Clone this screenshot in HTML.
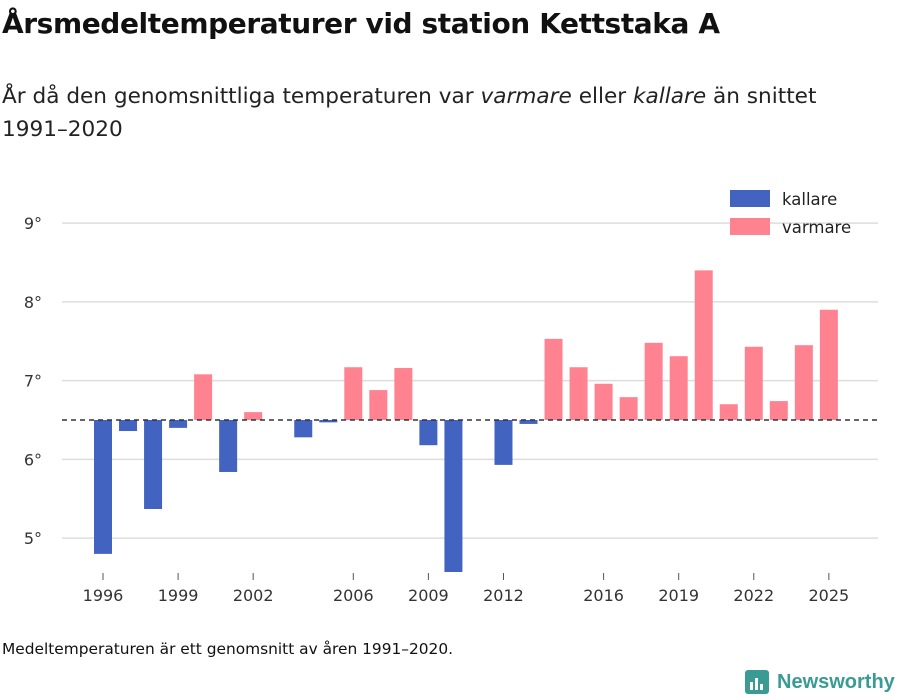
<!DOCTYPE html>
<html><head><meta charset="utf-8"><style>
body{margin:0;width:900px;height:700px;background:#fff;font-family:"DejaVu Sans","Liberation Sans",sans-serif;color:#111;position:relative;overflow:hidden}
h1{position:absolute;left:2px;top:7px;margin:0;font-size:28px;font-weight:bold;letter-spacing:-0.4px}
.sub{position:absolute;left:2px;top:80px;font-size:21.6px;line-height:33px;color:#222}
.note{position:absolute;left:2px;top:640px;font-size:15.4px;color:#111}
.logo{position:absolute;left:745px;top:670px;font-size:20px;color:#3a9b94;font-weight:bold;display:flex;align-items:center;gap:8px;font-family:"Liberation Sans",sans-serif}
</style></head><body>
<h1>Årsmedeltemperaturer vid station Kettstaka A</h1>
<div class="sub">År då den genomsnittliga temperaturen var <i>varmare</i> eller <i>kallare</i> än snittet<br>1991–2020</div>
<svg id="chart" width="900" height="700" style="position:absolute;left:0;top:0"></svg>
<div class="note">Medeltemperaturen är ett genomsnitt av åren 1991–2020.</div>
<div class="logo"><svg width="24" height="24"><rect width="24" height="24" rx="3" fill="#3a9b94"/><rect x="5" y="12" width="3" height="8" fill="#fff"/><rect x="10" y="8" width="3" height="12" fill="#fff"/><rect x="15" y="14" width="3" height="6" fill="#fff"/></svg>Newsworthy</div>
<script>
const years=[1996,1997,1998,1999,2000,2001,2002,2003,2004,2005,2006,2007,2008,2009,2010,2011,2012,2013,2014,2015,2016,2017,2018,2019,2020,2021,2022,2023,2024,2025];
const temps=[4.80,6.36,5.37,6.40,7.08,5.84,6.60,null,6.28,6.47,7.17,6.88,7.16,6.18,4.57,null,5.93,6.45,7.53,7.17,6.96,6.79,7.48,7.31,8.40,6.70,7.43,6.74,7.45,7.90];
const baseline=6.5;
const yTicks=[5,6,7,8,9];
const xTicks=[1996,1999,2002,2006,2009,2012,2016,2019,2022,2025];
const ns="http://www.w3.org/2000/svg";
const svg=document.getElementById('chart');
const x=yr=>103+(yr-1996)*25.03;
const y=v=>420-(v-baseline)*78.75;
function mk(t,a){const e=document.createElementNS(ns,t);for(const k in a)e.setAttribute(k,a[k]);svg.appendChild(e);return e;}
yTicks.forEach(t=>{
 const g=mk('line',{x1:62,x2:878,y1:y(t),y2:y(t),stroke:'#ddd','stroke-width':1.5});
 
 
 const l=mk('text',{x:42,y:y(t)+6,'text-anchor':'end','font-size':16,fill:'#333','font-family':'DejaVu Sans, sans-serif'});
 l.textContent=t+'°';
 
 
});
years.forEach((yr,i)=>{
 const v=temps[i]; if(v==null)return;
 const top=Math.min(y(v),y(baseline)),h=Math.abs(y(v)-y(baseline));
 const r=mk('rect',{x:x(yr)-9,y:top,width:18,height:h,fill:v>=baseline?'#ff8290':'#4263c0'});
 
 
});
const bl=mk('line',{x1:62,x2:878,y1:y(baseline),y2:y(baseline),stroke:'#333','stroke-width':1.5,'stroke-dasharray':'5,4'});


xTicks.forEach(t=>{
 const tk=mk('line',{x1:x(t),x2:x(t),y1:573,y2:580,stroke:'#555'});
 
 
 const l=mk('text',{x:x(t),y:601,'text-anchor':'middle','font-size':16,fill:'#333','font-family':'DejaVu Sans, sans-serif'});
 l.textContent=t;
 
 
});
[['kallare','#4263c0',190],['varmare','#ff8290',218]].forEach(([n,c,yy])=>{
 const r=mk('rect',{x:730,y:yy,width:40,height:17,fill:c});
 
 
 const t=mk('text',{x:782,y:yy+15,'font-size':16.5,fill:'#222','font-family':'DejaVu Sans, sans-serif'});
 t.textContent=n;
 
 
});
</script>
</body></html>
